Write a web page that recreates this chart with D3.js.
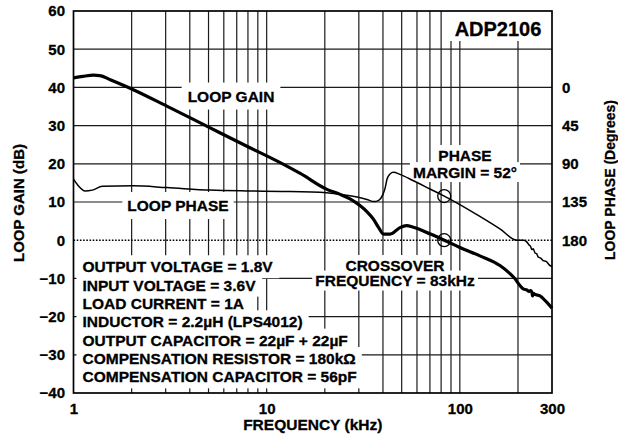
<!DOCTYPE html>
<html>
<head>
<meta charset="utf-8">
<script src="https://cdn.jsdelivr.net/npm/d3@7"></script>
<style>
  body { margin: 0; background: #fff; }
  svg { display: block; }
  text { font-family: "Liberation Sans", Arial, Helvetica, sans-serif; font-weight: bold; fill: #000; stroke: #000; stroke-width: 0.3px; }
</style>
</head>
<body>
<svg id="chart" width="618" height="437"></svg>
<script>
// Loop gain, dB, against frequency, kHz
const gainFreq = [1, 1.12, 1.27, 1.37, 1.55, 2.04, 3.04, 5.1, 7.9, 11.75, 15, 20.5, 24, 27, 30.5, 33, 35.7, 38, 40.3, 43.6, 49, 53, 57.5, 70.5, 83, 100, 127, 162, 190, 214, 222, 228, 232, 236, 238, 240, 245, 260, 280, 300];
const gainDb   = [42.5, 42.9, 43.2, 43.1, 42.0, 39.4, 35.1, 29.4, 24.6, 20.3, 17.4, 13.3, 12.0, 10.8, 9.0, 7.5, 5.5, 3.3, 1.6, 1.6, 3.3, 3.8, 3.4, 1.6, 0.0, -1.9, -4.1, -6.7, -9.7, -12.8, -13.0, -13.4, -13.2, -13.6, -14.6, -13.9, -14.2, -14.6, -16.1, -17.8];

// Loop phase, degrees, against frequency, kHz
const phaseFreq = [1, 1.05, 1.15, 1.25, 1.41, 2.04, 3.04, 5.1, 7.9, 12, 20.5, 24, 30.5, 33, 36, 38, 40, 41, 42, 43.5, 45.3, 49, 57.5, 70.5, 83, 100, 127, 162, 197, 214, 222, 228, 232, 236, 240, 245, 250, 255, 262, 270, 280, 290, 300];
const phaseDeg  = [108, 114.8, 122, 121, 116.5, 116, 118, 121, 122, 122.5, 124, 126, 130, 132, 134.5, 133, 126, 119, 108, 102, 100, 102.5, 110, 120, 128, 138, 152, 167, 180, 180, 182, 185.5, 187, 191, 190, 195, 196, 200, 201, 204, 205, 209, 211];

// Axis ticks
const gainTicks = [60, 50, 40, 30, 20, 10, 0, -10, -20, -30, -40];
const phaseTicks = [0, 45, 90, 135, 180];
const freqTicks = [1, 10, 100, 300];
const gridFreqs = [2, 3, 4, 5, 6, 7, 8, 9, 10, 20, 30, 40, 50, 60, 70, 80, 90, 100, 200];
const gridGains = [50, 40, 30, 20, 10, -10, -20, -30];

// Operating conditions and annotations
const notes = [
  "OUTPUT VOLTAGE = 1.8V",
  "INPUT VOLTAGE = 3.6V",
  "LOAD CURRENT = 1A",
  "INDUCTOR = 2.2µH (LPS4012)",
  "OUTPUT CAPACITOR = 22µF + 22µF",
  "COMPENSATION RESISTOR = 180kΩ",
  "COMPENSATION CAPACITOR = 56pF"
];
const partName = "ADP2106";
const crossoverKHz = 83;
const phaseMargin = 52;

const L = 73.5, R = 552, T = 11, B = 393;
const svg = d3.select("#chart");

const x = d3.scaleLog().domain([1, 300]).range([L, R]);
const y = d3.scaleLinear().domain([-40, 60]).range([B, T]);
const yPhase = d3.scaleLinear().domain([360, -90]).range([B, T]);

const gGrid = svg.append("g");
const gMask = svg.append("g");
const gCurves = svg.append("g");
const gText = svg.append("g");

// grid
gGrid.selectAll("line.v").data(gridFreqs).join("line")
  .attr("x1", d => x(d)).attr("x2", d => x(d))
  .attr("y1", T).attr("y2", B)
  .attr("stroke", "#1a1a1a").attr("stroke-width", 1.2);
gGrid.selectAll("line.h").data(gridGains).join("line")
  .attr("x1", L).attr("x2", R)
  .attr("y1", d => y(d)).attr("y2", d => y(d))
  .attr("stroke", "#1a1a1a").attr("stroke-width", 1.2);
gGrid.append("line")
  .attr("x1", L).attr("x2", R).attr("y1", y(0)).attr("y2", y(0))
  .attr("stroke", "#000").attr("stroke-width", 1.6).attr("stroke-dasharray", "1.6,1.6");

// axes
const minus = d => d < 0 ? "\u2212" + Math.abs(d) : String(d);
const leftAxis = svg.append("g").attr("transform", `translate(${L},0)`)
  .call(d3.axisLeft(y).tickValues(gainTicks).tickSize(0).tickPadding(8.5).tickFormat(minus));
const rightAxis = svg.append("g").attr("transform", `translate(${R},0)`)
  .call(d3.axisRight(yPhase).tickValues(phaseTicks).tickSize(0).tickPadding(10).tickFormat(d3.format("d")));
const bottomAxis = svg.append("g").attr("transform", `translate(0,${B})`)
  .call(d3.axisBottom(x).tickValues(freqTicks).tickSize(0).tickPadding(10.5).tickFormat(d3.format("d")));
[leftAxis, rightAxis, bottomAxis].forEach(g => {
  g.select(".domain").remove();
  g.selectAll("text").attr("font-size", 15).attr("font-family", null).attr("fill", "#000");
  g.attr("font-family", null).attr("font-size", null);
});

// axis titles
svg.append("text").attr("transform", `translate(24,203) rotate(-90)`)
  .attr("text-anchor", "middle").attr("font-size", 15).text("LOOP GAIN (dB)");
svg.append("text").attr("transform", `translate(615,180) rotate(-90)`)
  .attr("text-anchor", "middle").attr("font-size", 14).text("LOOP PHASE (Degrees)");
svg.append("text").attr("x", (L + R) / 2).attr("y", 429.5)
  .attr("text-anchor", "middle").attr("font-size", 15.5).text("FREQUENCY (kHz)");

// label with a white backing that breaks the grid
const FS = 15.5;
function label(lines, cx, cy0, step, anchor, pad) {
  const g = gText.append("g");
  const texts = lines.map((s, i) => g.append("text")
    .attr("x", cx).attr("y", cy0 + i * step + 0.358 * FS)
    .attr("text-anchor", anchor).attr("font-size", FS).text(s));
  texts.forEach(t => {
    const b = t.node().getBBox();
    gMask.append("rect")
      .attr("x", b.x - pad.x).attr("y", b.y - pad.y)
      .attr("width", b.width + 2 * pad.x).attr("height", b.height + 2 * pad.y)
      .attr("fill", "#fff");
  });
  return g;
}

label(["LOOP GAIN"], 231, 96, 0, "middle", {x: 6, y: 5});
label(["LOOP PHASE"], 178, 205.5, 0, "middle", {x: 5, y: 5});
label(["PHASE", `MARGIN = ${phaseMargin}°`], 465, 155, 17, "middle", {x: 3, y: 1.5});
label(["CROSSOVER", `FREQUENCY = ${crossoverKHz}kHz`], 395, 265, 15.5, "middle", {x: 3, y: 1.5});
label(notes, 82.5, 266.7, 18.35, "start", {x: 6, y: 3});

// part name box in the top-right corner
gMask.append("rect").attr("x", 445).attr("y", T).attr("width", R - 445).attr("height", 30).attr("fill", "#fff");
gText.append("text").attr("x", 498).attr("y", 28.5 + 0.358 * 20)
  .attr("text-anchor", "middle").attr("font-size", 20).text(partName);

// curves
const gainData = gainFreq.map((f, i) => [f, gainDb[i]]);
const phaseData = phaseFreq.map((f, i) => [f, phaseDeg[i]]);
gCurves.append("path").datum(phaseData)
  .attr("d", d3.line().x(d => x(d[0])).y(d => yPhase(d[1])).curve(d3.curveMonotoneX))
  .attr("fill", "none").attr("stroke", "#000").attr("stroke-width", 1.5).attr("stroke-linejoin", "round");
gCurves.append("path").datum(gainData)
  .attr("d", d3.line().x(d => x(d[0])).y(d => y(d[1])).curve(d3.curveMonotoneX))
  .attr("fill", "none").attr("stroke", "#000").attr("stroke-width", 3.2).attr("stroke-linejoin", "round");

// crossover and phase-margin markers
gCurves.append("circle").attr("cx", x(crossoverKHz)).attr("cy", y(0)).attr("r", 6.5)
  .attr("fill", "none").attr("stroke", "#000").attr("stroke-width", 1.3);
gCurves.append("circle").attr("cx", x(crossoverKHz)).attr("cy", yPhase(180 - phaseMargin)).attr("r", 6.5)
  .attr("fill", "none").attr("stroke", "#000").attr("stroke-width", 1.3);

// frame
svg.append("rect").attr("x", L).attr("y", T).attr("width", R - L).attr("height", B - T)
  .attr("fill", "none").attr("stroke", "#000").attr("stroke-width", 1.7);
</script>
</body>
</html>
